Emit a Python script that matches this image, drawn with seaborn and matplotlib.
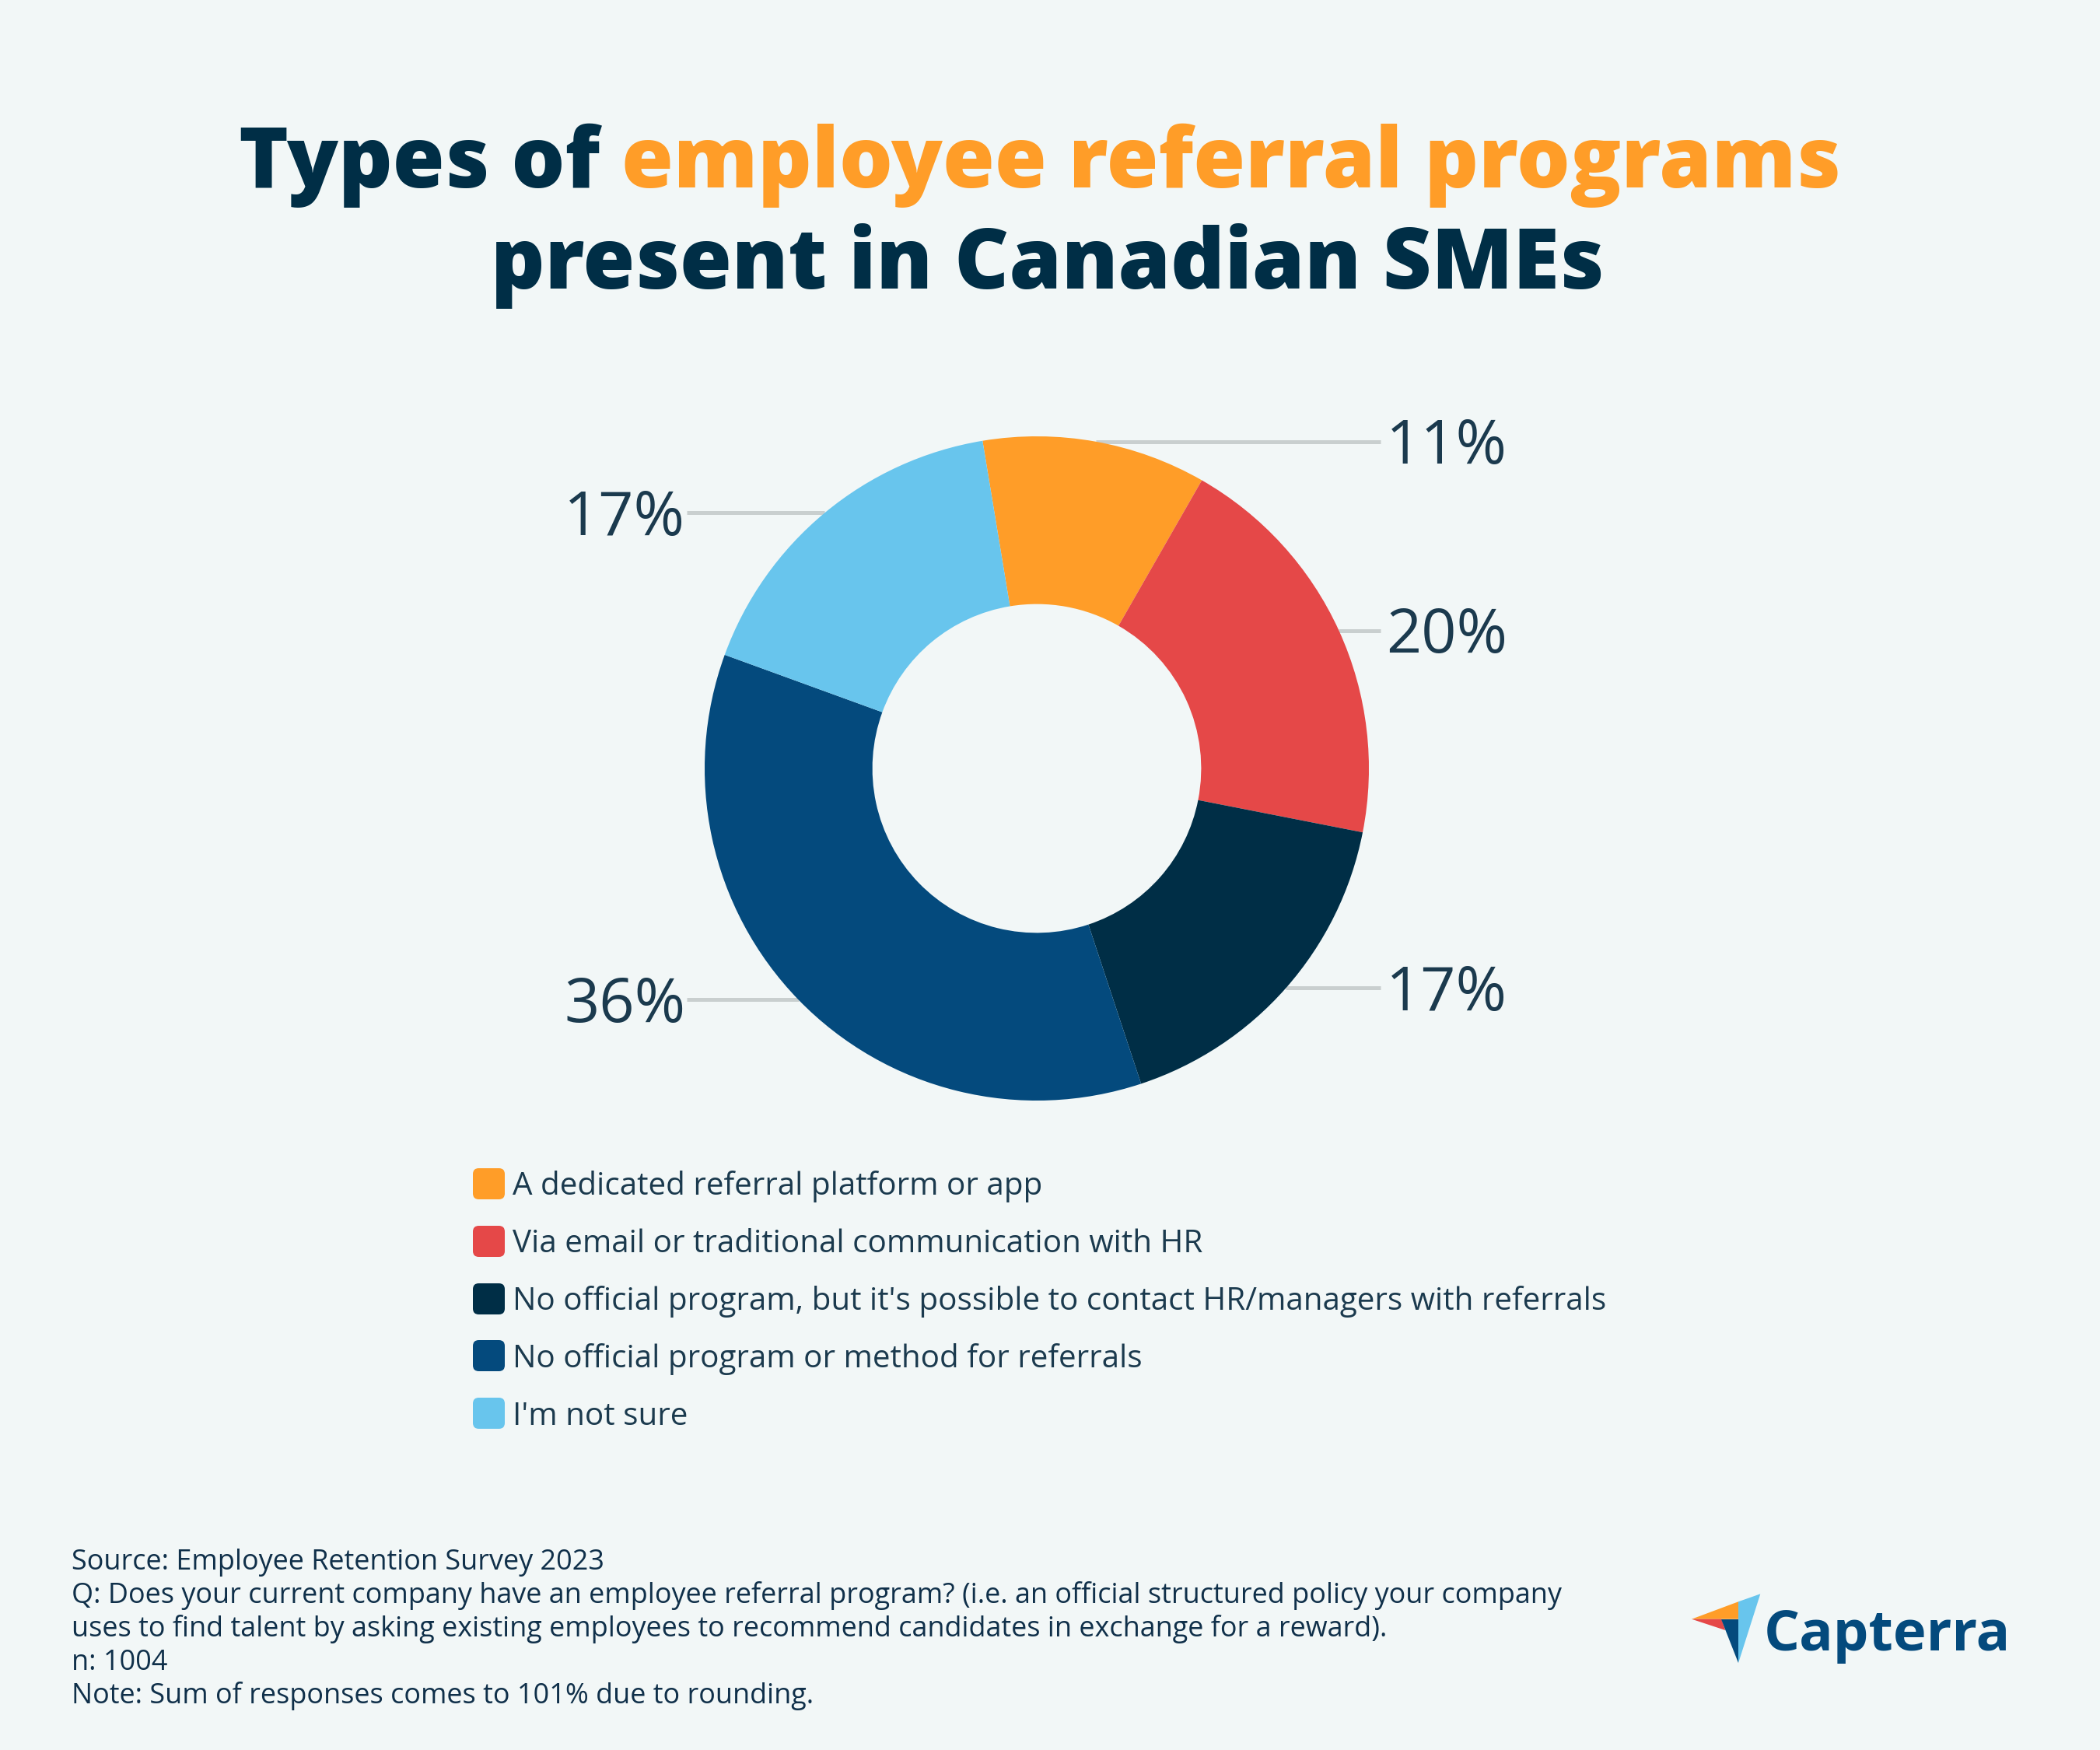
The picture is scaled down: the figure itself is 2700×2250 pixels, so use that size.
import matplotlib
matplotlib.use("Agg")
import matplotlib.pyplot as plt
import seaborn as sns
import numpy as np
from matplotlib.patches import Polygon, FancyBboxPatch
from matplotlib import transforms

# ---------------- data ----------------
categories = [
    "A dedicated referral platform or app",
    "Via email or traditional communication with HR",
    "No official program, but it's possible to contact HR/managers with referrals",
    "No official program or method for referrals",
    "I'm not sure",
]
values = [11, 20, 17, 36, 17]
colors = ["#FF9D28", "#E54848", "#002E46", "#044A7D", "#68C5ED"]

title_part1 = "Types of "
title_part2 = "employee referral programs"
title_line2 = "present in Canadian SMEs"
footer_lines = [
    "Source: Employee Retention Survey 2023",
    "Q: Does your current company have an employee referral program? (i.e. an official structured policy your company",
    "uses to find talent by asking existing employees to recommend candidates in exchange for a reward).",
    "n: 1004",
    "Note: Sum of responses comes to 101% due to rounding.",
]

# ---------------- style ----------------
BG = "#F2F7F7"
DARK = "#002E46"
TEXT = "#1B3A4E"
sns.set_theme(style="white")
plt.rcParams["font.family"] = ["Open Sans", "DejaVu Sans"]

W, H = 2700, 2250
fig = plt.figure(figsize=(27, 22.5), dpi=100, facecolor=BG)

def fx(x):
    return x / W

def fy(y):
    return 1 - y / H

# ---------------- donut ----------------
cx, cy, R = 1333, 988, 427
ax = fig.add_axes([fx(cx - R), fy(cy + R), 2 * R / W, 2 * R / H])
ax.set_facecolor("none")
wedges, _ = ax.pie(values, colors=colors, startangle=99.4, counterclock=False,
                   radius=1.0, wedgeprops=dict(width=0.505, linewidth=0))
ax.set_xlim(-1, 1)
ax.set_ylim(-1, 1)
ax.set_aspect("equal")
ax.axis("off")

label_tr_shift = transforms.offset_copy(ax.transData, fig=fig, y=-20.5, units="points")
for w, v in zip(wedges, values):
    mid = np.deg2rad((w.theta1 + w.theta2) / 2)
    x0, y0 = np.cos(mid), np.sin(mid)
    if x0 >= 0:
        xe, xt, ha = 1.035, 1.052, "left"
    else:
        xe, xt, ha = -1.054, -1.058, "right"
    ax.plot([x0, xe], [y0, y0], color="#C9CFCF", lw=3.6, solid_capstyle="butt",
            zorder=0, clip_on=False)
    ax.text(xt, y0, f"{v}%", ha=ha, va="baseline", fontsize=57, color=TEXT,
            transform=label_tr_shift, clip_on=False)

# ---------------- title ----------------
title_size = 78
tw = "heavy"
fig.canvas.draw()
r = fig.canvas.get_renderer()
t1 = fig.text(0, fy(241), title_part1, fontsize=title_size, fontweight=tw,
              color=DARK, ha="left", va="baseline")
t2 = fig.text(0, fy(241), title_part2, fontsize=title_size, fontweight=tw,
              color="#FF9D28", ha="left", va="baseline")
w1 = t1.get_window_extent(r).width
w2 = t2.get_window_extent(r).width
total = w1 + w2
start = 1337 - total / 2
t1.set_x(fx(start))
t2.set_x(fx(start + w1))
fig.text(fx(1347), fy(371), title_line2, fontsize=title_size, fontweight=tw,
         color=DARK, ha="center", va="baseline")

# ---------------- legend ----------------
row_y = [1522, 1596, 1670, 1743, 1817]
for c, lab, yy in zip(colors, categories, row_y):
    sq = FancyBboxPatch((fx(608), fy(yy + 20)), 41 / W, 40 / H,
                        boxstyle="round,pad=0,rounding_size=0.0028",
                        transform=fig.transFigure, facecolor=c, edgecolor="none",
                        mutation_aspect=W / H)
    fig.patches.append(sq)
    fig.text(fx(659), fy(yy + 14.5), lab, fontsize=29.1, color=TEXT,
             ha="left", va="baseline")

# ---------------- footer ----------------
foot_base = [2018, 2061, 2104, 2147, 2190]
for line, yy in zip(footer_lines, foot_base):
    fig.text(fx(92), fy(yy), line, fontsize=25.9, color="#10304A",
             ha="left", va="baseline")

# ---------------- logo ----------------
A = (2175, 2081.7); B = (2235, 2059.3); C = (2235, 2081.7); D = (2263.3, 2049.3)
E = (2235, 2138.3); F = (2213.3, 2081.7); G = (2218.3, 2096)
for pts, c in [((A, B, C), "#FF9D28"), ((A, F, G), "#E54848"),
               ((F, C, E), "#044A7D"), ((B, D, E), "#68C5ED")]:
    poly = Polygon([(fx(px), fy(py)) for px, py in pts], closed=True,
                   transform=fig.transFigure, facecolor=c, edgecolor="none")
    fig.patches.append(poly)
fig.text(fx(2268), fy(2121.7), "Capterra", fontsize=52, fontweight="bold",
         color="#044A7D", ha="left", va="baseline")

fig.savefig("out.png", dpi=100, facecolor=BG)
